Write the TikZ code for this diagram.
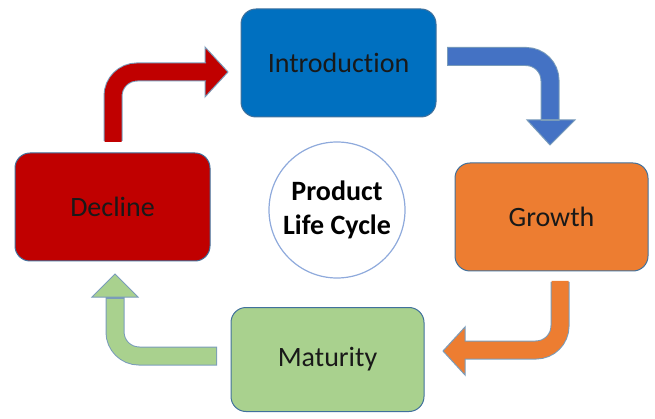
\documentclass[tikz,border=0pt]{standalone}
\usepackage{fontspec}
\setmainfont{Carlito}[Ligatures={NoCommon}]
\definecolor{cblue}{HTML}{0070C0}
\definecolor{corange}{HTML}{ED7D31}
\definecolor{cgreen}{HTML}{A9D18E}
\definecolor{cred}{HTML}{C00000}
\definecolor{ablue}{HTML}{4472C4}
\definecolor{edge}{HTML}{41719C}
\definecolor{ring}{HTML}{8FAADC}
\tikzset{
  stagebox/.style={rounded corners=15pt, minimum width=195pt, minimum height=108pt,
    draw=edge, line width=1pt, font=\fontsize{28}{32}\selectfont, text=black!90},
  shaftout/.style={line width=19pt, draw=edge!70, rounded corners=24pt},
  shaftin/.style={line width=17pt, rounded corners=24pt},
  headtri/.style={draw=edge!70, line width=1pt, line join=miter}
}
\begin{document}
\begin{tikzpicture}[x=1pt,y=-1pt]
\useasboundingbox (0,0) rectangle (655,419);
\node[stagebox, fill=cblue] (intro) at (338.5,63) {Introduction};
\node[stagebox, fill=corange, minimum width=193pt] (growth) at (551.5,217) {Growth};
\node[stagebox, fill=cgreen, minimum width=193pt, minimum height=104pt] (mat) at (327.5,359.5) {Maturity};
\node[stagebox, fill=cred, minimum width=195pt] (dec) at (112.5,207) {Decline};
\node[circle, draw=ring, line width=1.2pt, fill=white, minimum size=136pt, inner sep=0pt, align=center,
  font=\fontsize{28}{34}\selectfont\bfseries] (plc) at (337,210) {Product\\Life Cycle};
% red arrow: decline -> introduction
\coordinate (r0) at (113,141); \coordinate (r1) at (113,72); \coordinate (r2) at (207,72);
\coordinate (r3) at (206,72);
\fill[cred, headtri] (205,47) -- (228,72) -- (205,97) -- cycle;
\draw[shaftout] (r0) -- (r1) -- (r3);
\draw[shaftin, draw=cred] ([yshift=-1pt]r0) -- (r1) -- ([xshift=2pt]r2);
% blue arrow: introduction -> growth
\coordinate (b0) at (447,56.5); \coordinate (b1) at (550,56.5); \coordinate (b2) at (550,121);
\fill[ablue, headtri] (527,120) -- (550,145) -- (575,120) -- cycle;
\draw[shaftout] (b0) -- (b1) -- (b2);
\draw[shaftin, draw=ablue] ([xshift=1pt]b0) -- (b1) -- ([yshift=2pt]b2);
% orange arrow: growth -> maturity
\coordinate (o0) at (560,282); \coordinate (o1) at (560,350); \coordinate (o2) at (465,350);
\fill[corange, headtri] (465,327) -- (443,351) -- (465,375) -- cycle;
\draw[shaftout] (o0) -- (o1) -- (o2);
\draw[shaftin, draw=corange] ([yshift=1pt]o0) -- (o1) -- ([xshift=-2pt]o2);
% green arrow: maturity -> decline
\coordinate (g0) at (217,356); \coordinate (g1) at (115,356); \coordinate (g2) at (115,297);
\fill[cgreen, headtri] (92,297) -- (115,274) -- (138,297) -- cycle;
\draw[shaftout] (g0) -- (g1) -- (g2);
\draw[shaftin, draw=cgreen] ([xshift=-1pt]g0) -- (g1) -- ([yshift=-2pt]g2);
\end{tikzpicture}
\end{document}
